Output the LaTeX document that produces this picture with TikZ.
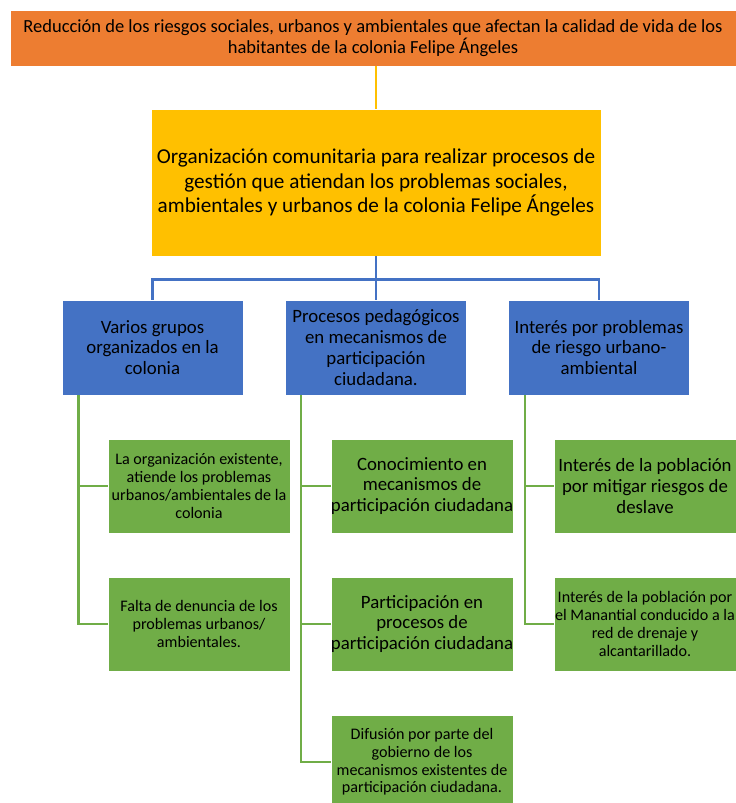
\documentclass[tikz,border=0pt]{standalone}
\usepackage{fontspec}
\setmainfont{Carlito}
\definecolor{orng}{HTML}{ED7D31}
\definecolor{yllw}{HTML}{FFC000}
\definecolor{blu}{HTML}{4472C4}
\definecolor{grn}{HTML}{70AD47}
\tikzset{
  box/.style={draw=white, line width=0.8pt, align=center, inner sep=0pt, text=black},
  topbox/.style={box, fill=orng, minimum width=726pt, minimum height=56pt, font=\fontsize{18.5}{21}\selectfont},
  mainbox/.style={box, fill=yllw, minimum width=450pt, minimum height=147pt, font=\fontsize{21.2}{24.5}\selectfont},
  bluebox/.style={box, fill=blu, minimum width=181pt, minimum height=95pt, font=\fontsize{18.8}{20.7}\selectfont},
  greenbox/.style={box, fill=grn, minimum width=182pt, minimum height=94pt, font=\fontsize{18.8}{20.7}\selectfont},
  smalltext/.style={font=\fontsize{16.1}{17.7}\selectfont},
  yline/.style={draw=yllw, line width=2.5pt},
  bline/.style={draw=blu, line width=2.5pt},
  gline/.style={draw=grn, line width=2.5pt},
}
\begin{document}
\begin{tikzpicture}[x=1pt, y=-1pt]
\path[use as bounding box] (0,0) rectangle (736,803);
\clip (0,0) rectangle (736,803);

\node[topbox] (top) at (373,38) {Reducción de los riesgos sociales, urbanos y ambientales que afectan la calidad de vida de los\\habitantes de la colonia Felipe Ángeles};

\node[mainbox] (main) at (376,182.5) {Organización comunitaria para realizar procesos de\\gestión que atiendan los problemas sociales,\\ambientales y urbanos de la colonia Felipe Ángeles};

\node[bluebox] (b1) at (152.5,347.5) {Varios grupos\\organizados en la\\colonia};
\node[bluebox] (b2) at (376,347.5) {Procesos pedagógicos\\en mecanismos de\\participación\\ciudadana.};
\node[bluebox] (b3) at (599,347.5) {Interés por problemas\\de riesgo urbano-\\ambiental};

\node[greenbox, smalltext] (g11) at (199,486) {La organización existente,\\atiende los problemas\\urbanos/ambientales de la\\colonia};
\node[greenbox, smalltext] (g12) at (199,624) {Falta de denuncia de los\\problemas urbanos/\\ambientales.};

\node[greenbox] (g21) at (422,486) {Conocimiento en\\mecanismos de\\participación ciudadana};
\node[greenbox] (g22) at (422,624) {Participación en\\procesos de\\participación ciudadana};
\node[greenbox, smalltext] (g23) at (422,762) {Difusión por parte del\\gobierno de los\\mecanismos existentes de\\participación ciudadana.};

\node[greenbox] (g31) at (645,486) {Interés de la población\\por mitigar riesgos de\\deslave};
\node[greenbox, smalltext] (g32) at (645,624) {Interés de la población por\\el Manantial conducido a la\\red de drenaje y\\alcantarillado.};

% top connector
\draw[yline] (top.south -| main.north) -- (main.north);

% blue tree
\coordinate (bj) at ([yshift=-23pt]main.south);
\draw[bline] (main.south) -- (bj);
\draw[bline] (bj) -| (b1.north);
\draw[bline] (bj) -- (b2.north);
\draw[bline] (bj) -| (b3.north);

% green trees
\coordinate (t1) at ([xshift=17pt]b1.south west);
\coordinate (t2) at ([xshift=16pt]b2.south west);
\coordinate (t3) at ([xshift=17pt]b3.south west);
\draw[gline] (t1) |- (g11.west);
\draw[gline] (t1) |- (g12.west);
\draw[gline] (t2) |- (g21.west);
\draw[gline] (t2) |- (g22.west);
\draw[gline] (t2) |- (g23.west);
\draw[gline] (t3) |- (g31.west);
\draw[gline] (t3) |- (g32.west);
\end{tikzpicture}
\end{document}
